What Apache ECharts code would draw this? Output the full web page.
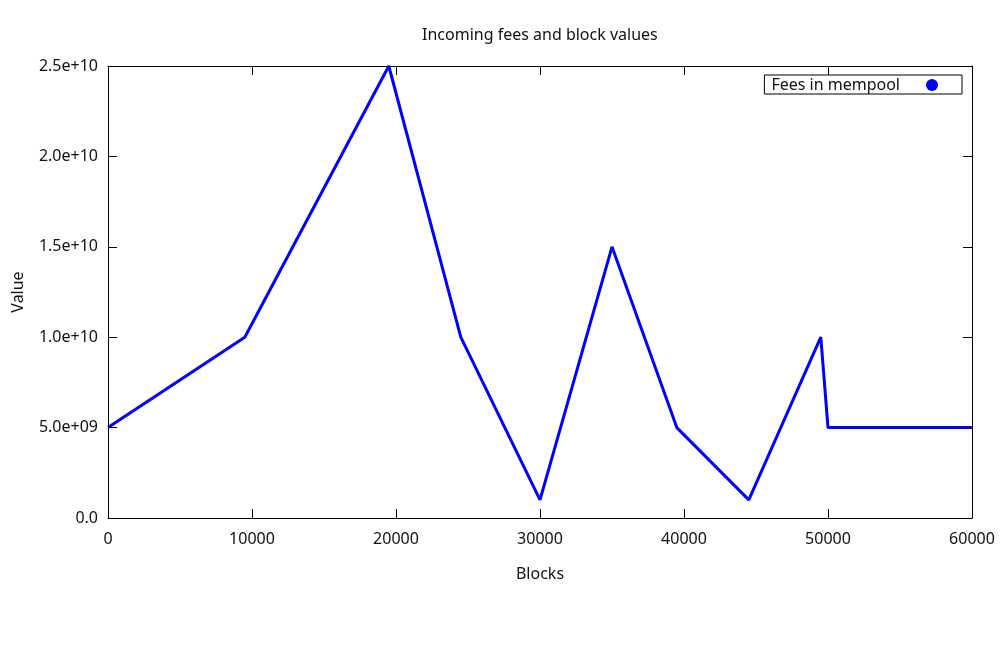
<!DOCTYPE html>
<html>
<head>
<meta charset="utf-8">
<script src="https://cdn.jsdelivr.net/npm/echarts@6/dist/echarts.min.js"></script>
<style>html,body{margin:0;padding:0;background:#fff}#c{width:1000px;height:650px}</style>
</head>
<body>
<div id="c"></div>
<script>
const blocks = [0, 9500, 19500, 24500, 30000, 35000, 39500, 44500, 49500, 50000, 60000];
const fees = [5e9, 1e10, 2.5e10, 1e10, 1e9, 1.5e10, 5e9, 1e9, 1e10, 5e9, 5e9];
const seriesName = 'Fees in mempool';
const titleText = 'Incoming fees and block values';
const xName = 'Blocks';
const yName = 'Value';

function fmtY(v) {
  if (v === 0) return '0.0';
  const s = v.toExponential(1);
  const [m, e] = s.split('e');
  const sign = e[0];
  let d = e.slice(1);
  if (d.length < 2) d = '0' + d;
  return m + 'e' + sign + d;
}

const font = 'Noto Sans';
const fs = 16;
const txt = '#111';
const chart = echarts.init(document.getElementById('c'), null, {renderer: 'canvas'});
const axisLine = {show: true, onZero: false, lineStyle: {color: '#000', width: 1}};
const tick = {show: true, inside: true, length: 9, lineStyle: {color: '#000', width: 1}};
chart.setOption({
  animation: false,
  backgroundColor: '#fff',
  textStyle: {fontFamily: font},
  title: {
    text: titleText, left: 417, top: 22,
    textStyle: {fontFamily: font, fontSize: fs, fontWeight: 'normal', color: txt}
  },
  grid: {left: 108, right: 28, top: 66, bottom: 132, containLabel: false},
  legend: {
    right: 38, top: 75, align: 'right', orient: 'vertical',
    borderColor: '#000', borderWidth: 1, borderRadius: 0, padding: [2, 24, 1, 7],
    itemWidth: 12, itemHeight: 12,
    textStyle: {fontFamily: font, fontSize: fs, color: txt, padding: [0, 21, 0, 0]},
    data: [{name: seriesName, icon: 'circle', itemStyle: {color: '#0000ff'}}]
  },
  xAxis: [{
    type: 'value', min: 0, max: 60000, interval: 10000,
    name: xName, nameLocation: 'middle', nameGap: 48,
    nameTextStyle: {fontFamily: font, fontSize: fs, color: txt},
    axisLine: axisLine, axisTick: tick, splitLine: {show: false},
    axisLabel: {fontFamily: font, fontSize: fs, color: txt, margin: 13, formatter: v => String(v)}
  }, {
    type: 'value', position: 'top', min: 0, max: 60000, interval: 10000,
    axisLine: axisLine, axisTick: tick, splitLine: {show: false},
    axisLabel: {show: false}
  }],
  yAxis: [{
    type: 'value', min: 0, max: 2.5e10, interval: 5e9,
    name: yName, nameLocation: 'middle', nameGap: 82, nameRotate: 90,
    nameTextStyle: {fontFamily: font, fontSize: fs, color: txt},
    axisLine: axisLine, axisTick: tick, splitLine: {show: false},
    axisLabel: {fontFamily: font, fontSize: fs, color: txt, margin: 10, formatter: fmtY}
  }, {
    type: 'value', position: 'right', min: 0, max: 2.5e10, interval: 5e9,
    axisLine: axisLine, axisTick: tick, splitLine: {show: false},
    axisLabel: {show: false}
  }],
  series: [{
    name: seriesName, type: 'line', xAxisIndex: 0, yAxisIndex: 0,
    data: blocks.map((b, i) => [b, fees[i]]),
    showSymbol: false, symbol: 'none',
    lineStyle: {color: '#0000ff', width: 3},
    itemStyle: {color: '#0000ff'}
  }]
});
</script>
</body>
</html>
